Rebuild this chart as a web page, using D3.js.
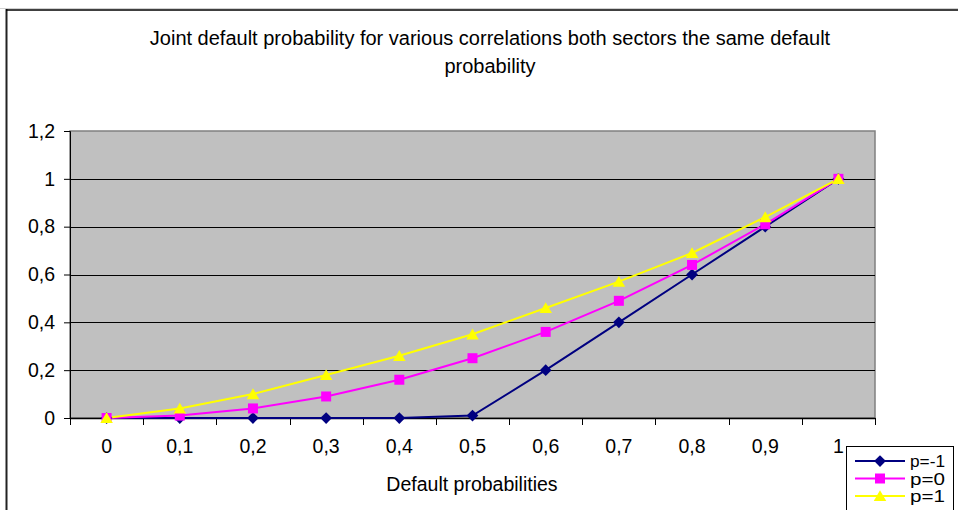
<!DOCTYPE html>
<html>
<head>
<meta charset="utf-8">
<script src="https://cdn.jsdelivr.net/npm/d3@7"></script>
<style>
  html, body { margin: 0; padding: 0; background: #fff; }
  svg { display: block; font-family: "Liberation Sans", Arial, sans-serif; }
</style>
</head>
<body>
<svg id="chart" width="958" height="510"></svg>
<script>
// Default probability per sector (category axis)
const categories = ["0", "0,1", "0,2", "0,3", "0,4", "0,5", "0,6", "0,7", "0,8", "0,9", "1"];

// Joint default probability for each correlation
const seriesNames = ["p=-1", "p=0", "p=1"];
const valuesNeg = [0, 0, 0, 0, 0, 0.01, 0.2, 0.4, 0.6, 0.8, 1];
const valuesZero = [0, 0.01, 0.04, 0.09, 0.16, 0.25, 0.36, 0.49, 0.64, 0.81, 1];
const valuesPos = [0, 0.04, 0.1, 0.18, 0.26, 0.35, 0.46, 0.57, 0.69, 0.84, 1];

const yTicks = [0, 0.2, 0.4, 0.6, 0.8, 1, 1.2];
const yTickLabels = ["0", "0,2", "0,4", "0,6", "0,8", "1", "1,2"];

const titleLines = ["Joint default probability for various correlations both sectors the same default", "probability"];
const xTitle = "Default probabilities";

const colors = ["#000080", "#FF00FF", "#FFFF00"];
const markerTypes = [d3.symbolDiamond2, d3.symbolSquare, d3.symbolTriangle];
const markerSizes = [88, 100, 68];
const markerDy = [0, 0, 1.5];

const svg = d3.select("#chart");

const plot = { left: 70, right: 875, top: 131, bottom: 418 };

// Chart frame
svg.append("line").attr("x1", 0).attr("x2", 958).attr("y1", 8.5).attr("y2", 8.5)
  .attr("stroke", "#d0d0d0").attr("stroke-width", 1);
svg.append("line").attr("x1", 6.5).attr("x2", 6.5).attr("y1", 9).attr("y2", 510)
  .attr("stroke", "#222").attr("stroke-width", 2);
svg.append("line").attr("x1", 6).attr("x2", 958).attr("y1", 10).attr("y2", 10)
  .attr("stroke", "#000").attr("stroke-width", 1.5);

// Title
svg.append("text")
  .attr("text-anchor", "middle")
  .attr("font-size", 20)
  .attr("fill", "#000")
  .selectAll("tspan")
  .data(titleLines)
  .join("tspan")
  .attr("x", 490)
  .attr("y", (d, i) => 45 + i * 28)
  .text(d => d);

// Scales
const x = d3.scaleBand().domain(categories).range([plot.left, plot.right]).padding(0);
const y = d3.scaleLinear().domain([0, 1.2]).range([plot.bottom, plot.top]);
const cx = c => x(c) + x.bandwidth() / 2;

// Plot area background
svg.append("rect")
  .attr("x", plot.left).attr("y", plot.top)
  .attr("width", plot.right - plot.left).attr("height", plot.bottom - plot.top)
  .attr("fill", "#C0C0C0").attr("stroke", "#808080").attr("stroke-width", 1.5);

// Horizontal gridlines
svg.append("g").selectAll("line")
  .data(yTicks.filter(v => v > 0 && v < 1.2))
  .join("line")
  .attr("x1", plot.left).attr("x2", plot.right)
  .attr("y1", d => Math.round(y(d)) + 0.5).attr("y2", d => Math.round(y(d)) + 0.5)
  .attr("stroke", "#000").attr("stroke-width", 1);

// Y axis
const yAxis = d3.axisLeft(y)
  .tickValues(yTicks)
  .tickFormat((d, i) => yTickLabels[i])
  .tickSize(6)
  .tickPadding(9);
const gy = svg.append("g").attr("transform", `translate(${plot.left},0)`).call(yAxis);
gy.select(".domain").attr("stroke", "#000");
gy.selectAll(".tick line").attr("stroke", "#000");
gy.selectAll(".tick text").attr("font-size", 19.5).attr("font-family", "Liberation Sans, Arial, sans-serif").attr("fill", "#000");

// X axis: labels centred in each category, ticks at category boundaries
const xAxis = d3.axisBottom(x).tickSize(0).tickPadding(21).tickSizeOuter(0);
const gx = svg.append("g").attr("transform", `translate(0,${plot.bottom})`).call(xAxis);
gx.select(".domain").attr("stroke", "#000").attr("stroke-width", 1.5);
gx.selectAll(".tick text").attr("font-size", 19.5).attr("font-family", "Liberation Sans, Arial, sans-serif").attr("fill", "#000");
const boundaries = categories.map(c => x(c)).concat([x(categories[categories.length - 1]) + x.bandwidth()]);
gx.append("g").selectAll("line")
  .data(boundaries)
  .join("line")
  .attr("x1", d => Math.round(d) + 0.5).attr("x2", d => Math.round(d) + 0.5)
  .attr("y1", 0).attr("y2", 7)
  .attr("stroke", "#000");

// X axis title
svg.append("text")
  .attr("x", 472).attr("y", 491)
  .attr("text-anchor", "middle")
  .attr("font-size", 19.5)
  .attr("fill", "#000")
  .text(xTitle);

// Series lines and markers
const allSeries = [valuesNeg, valuesZero, valuesPos];
const line = d3.line().x((d, i) => cx(categories[i])).y(d => y(d));

allSeries.forEach((vals, s) => {
  svg.append("path")
    .datum(vals)
    .attr("d", line)
    .attr("fill", "none")
    .attr("stroke", colors[s])
    .attr("stroke-width", 2);
});
allSeries.forEach((vals, s) => {
  svg.append("g").selectAll("path")
    .data(vals)
    .join("path")
    .attr("transform", (d, i) => `translate(${cx(categories[i])},${y(d) + markerDy[s]})`)
    .attr("d", d3.symbol().type(markerTypes[s]).size(markerSizes[s]))
    .attr("fill", colors[s]);
});

// Legend
const legend = svg.append("g").attr("transform", "translate(846,446)");
legend.append("rect")
  .attr("x", 0.5).attr("y", 0.5).attr("width", 107).attr("height", 70)
  .attr("fill", "#fff").attr("stroke", "#000").attr("stroke-width", 1);
seriesNames.forEach((name, s) => {
  const row = legend.append("g").attr("transform", `translate(0,${15 + s * 17.5})`);
  row.append("line").attr("x1", 9).attr("x2", 59).attr("y1", 0).attr("y2", 0)
    .attr("stroke", colors[s]).attr("stroke-width", 2);
  row.append("path")
    .attr("transform", `translate(34,${markerDy[s]})`)
    .attr("d", d3.symbol().type(markerTypes[s]).size(markerSizes[s]))
    .attr("fill", colors[s]);
  row.append("text").attr("x", 64).attr("y", 6)
    .attr("font-size", 16.5).attr("fill", "#000")
    .attr("textLength", 35).attr("lengthAdjust", "spacingAndGlyphs")
    .text(name);
});
</script>
</body>
</html>
